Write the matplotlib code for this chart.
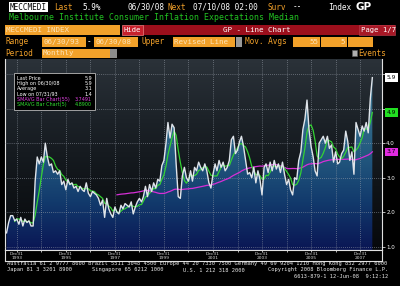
import numpy as np
import pandas as pd
import matplotlib
matplotlib.use('Agg')
import matplotlib.pyplot as plt
import matplotlib.dates as mdates
from matplotlib.colors import LinearSegmentedColormap
from matplotlib.patches import Rectangle
from matplotlib.transforms import blended_transform_factory

# Melbourne Institute consumer inflation expectations, median, monthly Jul 1993 - Jun 2008
values = [
    1.4, 1.7, 1.9, 1.9, 1.75, 1.8, 1.65, 1.85, 1.6, 1.8, 1.7, 1.75,
    1.6, 1.6, 2.9, 3.6, 3.4, 3.6, 3.45, 4.0, 3.6, 3.35, 3.4, 3.15,
    3.2, 3.1, 3.2, 2.8, 2.9, 2.65, 2.95, 2.8, 2.85, 2.7, 2.75, 2.6,
    2.75, 2.65, 2.6, 2.85, 2.55, 2.45, 2.6, 2.55, 2.5, 2.4, 2.2, 2.35,
    1.85, 2.4, 2.1, 1.95, 1.85, 2.15, 2.0, 1.95, 2.2, 2.1, 2.25, 2.2,
    2.15, 2.3, 1.95, 2.15, 2.3, 2.4, 2.3, 2.45, 2.75, 2.45, 2.8, 2.6,
    2.85, 2.7, 2.95, 2.9, 3.35, 3.5, 4.0, 4.6, 4.15, 4.55, 4.45, 3.4,
    2.45, 2.4, 3.05, 3.3, 3.0, 2.9, 3.2, 2.9, 3.3, 3.2, 3.45, 3.3,
    3.2, 3.4, 3.2, 2.85, 2.7, 3.1, 3.4, 3.2, 3.5, 3.3, 3.45, 3.2,
    3.3, 3.5, 4.1, 4.2, 3.7, 3.8, 4.05, 4.2, 3.9, 3.5, 3.1, 3.15,
    3.0, 3.3, 2.85, 3.2, 2.95, 2.5, 3.3, 3.4, 3.15, 3.45, 3.2, 3.5,
    3.25, 3.4, 3.15, 3.45, 3.1, 2.8, 2.95, 2.65, 2.5, 3.0, 2.95, 3.5,
    3.75, 4.4, 4.7, 5.25, 4.4, 3.9, 3.6, 3.2, 3.05, 4.0, 4.1, 4.2,
    4.0, 4.2, 3.85, 3.95, 3.45, 3.75, 3.4, 3.45, 3.7, 3.8, 4.35, 4.05,
    3.5, 3.75, 3.1, 4.6, 4.4, 4.2, 4.5, 4.35, 4.6, 4.3, 5.3, 5.9,
]
y_ticks = [1, 2, 3, 4, 5, 6]
y_labels = ['1.0', '2.0', '3.0', '4.0', '', '']
label_years = list(range(1993, 2008, 2))

dates = pd.date_range('1993-07-01', periods=len(values), freq='MS') + pd.offsets.MonthEnd(0)
s = pd.Series(values, index=dates)
sma55 = s.rolling(55).mean()
sma5 = s.rolling(5).mean()

W, H = 400, 286
ORANGE = '#f2a12a'
BOXTXT = '#fde3b8'
fig = plt.figure(figsize=(W / 100, H / 100), dpi=100, facecolor='black')


def box(x0, y0, x1, y1, fc, ec=None, lw=0):
    fig.patches.append(Rectangle((x0 / W, 1 - y1 / H), (x1 - x0) / W, (y1 - y0) / H,
                                 transform=fig.transFigure, facecolor=fc,
                                 edgecolor=ec if ec else fc, linewidth=lw))


def txt(x, y, s, color, size=5.6, ha='left', family='DejaVu Sans Mono', **kw):
    fig.text(x / W, 1 - y / H, s, color=color, fontsize=size, ha=ha, va='center',
             family=family, **kw)


# ---- main plot ----
ylo, yhi = 0.904, 6.44
xlo, xhi = pd.Timestamp('1993-07-08'), pd.Timestamp('2008-11-21')
ax = fig.add_axes([5 / W, 1 - 250 / H, 377 / W, 191 / H])
ax.set_facecolor('black')
ax.set_xlim(xlo, xhi)
ax.set_ylim(ylo, yhi)
ext = [mdates.date2num(xlo), mdates.date2num(xhi), ylo, yhi]

bg = LinearSegmentedColormap.from_list('bg', ['#07090c', '#101418', '#1b2127', '#2b3239'])
grad = np.linspace(0, 1, 256).reshape(-1, 1)
ax.imshow(grad, extent=ext, origin='lower', aspect='auto', cmap=bg, zorder=0)

fill_cm = LinearSegmentedColormap.from_list(
    'fill', ['#0a1654', '#123a6c', '#23597f', '#376f8c', '#4d86a0'])
poly = ax.fill_between(s.index, s.values, ylo, color='none', lw=0)
im = ax.imshow(grad, extent=ext, origin='lower', aspect='auto', cmap=fill_cm, zorder=1)
im.set_clip_path(poly.get_paths()[0], transform=ax.transData)

ax.plot(sma55.index, sma55.values, color='#d62fd6', lw=0.9, zorder=3)
ax.plot(sma5.index, sma5.values, color='#34d234', lw=0.9, zorder=3)
ax.plot(s.index, s.values, color='#dfe4ea', lw=1.0, zorder=4)

ax.set_xticks(pd.to_datetime([f'{y}-12-31' for y in label_years]))
ax.set_yticks(y_ticks)
ax.set_yticklabels(y_labels)
ax.grid(True, color='#9aa2ac', lw=0.5, linestyle=(0, (1, 2)), zorder=2)
ax.set_axisbelow(False)
ax.yaxis.tick_right()
ax.tick_params(axis='y', colors='white', labelsize=4, length=2, width=0.5, pad=1)
ax.tick_params(axis='x', length=0, labelbottom=False)
for side in ['left', 'right', 'bottom']:
    ax.spines[side].set_color('#e0e0e0')
    ax.spines[side].set_linewidth(0.8)
ax.spines['top'].set_visible(False)

# value tags on right axis
bt = blended_transform_factory(ax.transAxes, ax.transData)
for val, fc, label in [(values[-1], 'white', f'{values[-1]:.1f}'),
                       (sma5.iloc[-1], '#22e022', f'{sma5.iloc[-1]:.1f}'),
                       (sma55.iloc[-1], '#e02ae0', f'{sma55.iloc[-1]:.1f}')]:
    ax.text(1.012, val, label, transform=bt, fontsize=4.2, color='black', va='center',
            ha='left', bbox=dict(boxstyle='square,pad=0.28', fc=fc, ec='none'))

# x label strip
axx = fig.add_axes([5 / W, 1 - 261 / H, 377 / W, 11 / H], sharex=ax)
axx.set_facecolor('black')
axx.set_yticks([])
axx.xaxis.tick_top()
axx.set_xticks(pd.to_datetime([f'{y}-12-31' for y in range(1993, 2008)]))
axx.tick_params(axis='x', direction='in', length=1.5, width=0.5, colors='white', labeltop=False)
for sp in axx.spines.values():
    sp.set_color('#e0e0e0')
    sp.set_linewidth(0.8)
bx = blended_transform_factory(axx.transData, axx.transAxes)
for yr in label_years:
    d = pd.Timestamp(f'{yr}-12-31')
    axx.text(d, 0.68, 'Dec31', transform=bx, fontsize=3.2, color='#d8d8d8', ha='center', va='center')
    axx.text(d, 0.28, str(yr), transform=bx, fontsize=3.2, color='#d8d8d8', ha='center', va='center')

# ---- info box ----
box(14, 73, 95, 110, 'black', ec='#b8b8b8', lw=0.6)
info = [('Last Price', f'{values[-1]:.1f}', 'white'),
        ('High on 06/30/08', f'{max(values):.1f}', 'white'),
        ('Average', f'{np.mean(values):.1f}', 'white'),
        ('Low on 07/31/93', f'{min(values):.1f}', 'white'),
        ('SMAVG Bar Chart(55)', f'{sma55.iloc[-1]:.4f}', '#e040e0'),
        ('SMAVG Bar Chart(5)', f'{sma5.iloc[-1]:.4f}', '#30e030')]
for i, (lab, v, c) in enumerate(info):
    yy = 78 + i * 5.4
    txt(17, yy, lab, c, size=3.5, family='DejaVu Sans')
    txt(92, yy, v, c, size=3.5, ha='right', family='DejaVu Sans')

# ---- header ----
box(9, 2, 48, 12, 'white')
txt(10, 7, 'MECCMEDI', 'black')
txt(54, 7, 'Last', ORANGE)
txt(82, 7, '5.9%', 'white')
txt(127, 7, '06/30/08', 'white')
txt(167, 7, 'Next', ORANGE)
txt(193, 7, '07/10/08 02:00', 'white')
txt(268, 7, 'Surv', ORANGE)
txt(293, 7, '--', 'white')
txt(328, 7, 'Index', 'white')
txt(356, 7, 'GP', 'white', size=7.5, weight='bold', family='DejaVu Sans')
txt(9, 17.5, 'Melbourne Institute Consumer Inflation Expectations Median', '#22c422', size=5.95)

box(5, 25, 120, 35, ORANGE)
txt(6, 30, 'MECCMEDI INDEX', BOXTXT, size=5.4)
box(143, 25, 395, 35, '#9c0f1c')
box(122, 25, 143, 35, '#c8202c', ec='#e88080', lw=0.5)
txt(124, 30, 'Hide', 'white', size=5.2)
txt(223, 30, 'GP - Line Chart', 'white', size=5.4)
box(359, 25, 395, 35, '#a81826', ec='#c04050', lw=0.4)
txt(361, 30, 'Page 1/7', 'white', size=5.2)

txt(5, 42, 'Range', ORANGE)
box(42, 37, 86, 47, ORANGE)
txt(44, 42, '06/30/93', BOXTXT, size=5.4)
txt(87, 42, '-', 'white')
box(94, 37, 138, 47, ORANGE)
txt(96, 42, '06/30/08', BOXTXT, size=5.4)
txt(141, 42, 'Upper', ORANGE)
box(173, 37, 235, 47, ORANGE)
txt(174, 42, 'Revised Line', BOXTXT, size=5.4)
box(236, 37, 242, 47, '#9a9a9a')
txt(245, 42, 'Mov. Avgs', ORANGE)
box(293, 37, 320, 47, ORANGE)
txt(318, 42, '55', BOXTXT, size=5.4, ha='right')
box(321, 37, 347, 47, ORANGE)
txt(345, 42, '5', BOXTXT, size=5.4, ha='right')
box(348, 37, 373, 47, ORANGE)

txt(5, 53.5, 'Period', ORANGE)
box(42, 49, 110, 58, ORANGE)
txt(43, 53.5, 'Monthly', BOXTXT, size=5.4)
box(110, 49, 117, 58, '#8c8c8c')
box(352, 50.5, 357, 55.5, '#b0b0b0', ec='#606060', lw=0.4)
txt(358, 53, 'Events', ORANGE)

# ---- footer ----
foot = '#e8e8e8'
txt(7, 264, 'Australia 61 2 9777 8600 Brazil 5511 3048 4500 Europe 44 20 7330 7500 '
            'Germany 49 69 9204 1210 Hong Kong 852 2977 6000', foot, size=3.9)
txt(7, 270, 'Japan 81 3 3201 8900', foot, size=3.9)
txt(92, 270, 'Singapore 65 6212 1000', foot, size=3.9)
txt(183, 270, 'U.S. 1 212 318 2000', foot, size=3.9)
txt(388, 270, 'Copyright 2008 Bloomberg Finance L.P.', foot, size=3.9, ha='right')
txt(388, 276, '6613-879-1 12-Jun-08  9:12:12', foot, size=3.9, ha='right')

fig.savefig('out.png', dpi=100, facecolor='black')
